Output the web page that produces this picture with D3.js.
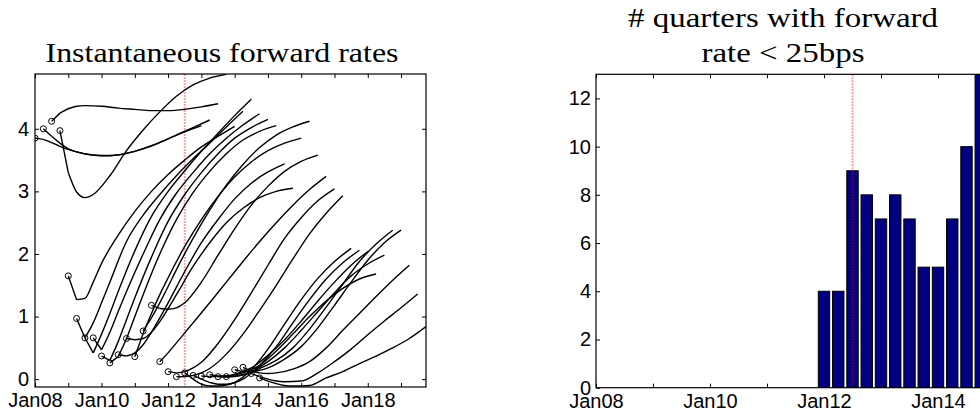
<!DOCTYPE html>
<html><head><meta charset="utf-8">
<script src="https://cdn.jsdelivr.net/npm/d3@7"></script>
<style>body{margin:0;background:#fff}svg{display:block}</style>
</head><body>
<svg id="c" width="980" height="415"></svg>
<script>
// ---------- data ----------
const horizons = [0, 0.25, 0.5, 0.75, 1, 1.5, 2, 2.5, 3, 3.5, 4, 4.5, 5];
const curveStarts = [2008.0, 2008.25, 2008.5, 2008.75, 2009.0, 2009.25, 2009.5, 2009.75,
  2010.0, 2010.25, 2010.5, 2010.75, 2011.0, 2011.25, 2011.5, 2011.75,
  2012.0, 2012.25, 2012.5, 2012.75, 2013.0, 2013.25, 2013.5, 2013.75,
  2014.0, 2014.25, 2014.5, 2014.75];
const fwd2008Q1 = [3.85, 3.83, 3.78, 3.72, 3.67, 3.60, 3.57, 3.58, 3.64, 3.73, 3.84, 3.95, 4.05];
const fwd2008Q2 = [4.00, 3.88, 3.77, 3.68, 3.63, 3.58, 3.57, 3.61, 3.68, 3.78, 3.90, 4.02, 4.14];
const fwd2008Q3 = [4.12, 4.25, 4.32, 4.36, 4.37, 4.36, 4.33, 4.31, 4.29, 4.29, 4.31, 4.35, 4.40];
const fwd2008Q4 = [3.97, 3.30, 2.99, 2.90, 2.95, 3.25, 3.65, 3.98, 4.27, 4.52, 4.70, 4.81, 4.87];
const fwd2009Q1 = [1.65, 1.27, 1.29, 1.55, 1.85, 2.30, 2.68, 3.00, 3.27, 3.50, 3.71, 3.88, 4.04];
const fwd2009Q2 = [0.97, 0.66, 0.90, 1.22, 1.55, 2.20, 2.62, 2.95, 3.25, 3.52, 3.77, 4.03, 4.28];
const fwd2009Q3 = [0.66, 0.42, 0.72, 1.05, 1.40, 2.05, 2.60, 3.00, 3.33, 3.64, 3.93, 4.21, 4.47];
const fwd2009Q4 = [0.66, 0.47, 0.75, 1.08, 1.40, 2.00, 2.55, 2.97, 3.30, 3.60, 3.85, 4.06, 4.24];
const fwd2010Q1 = [0.37, 0.30, 0.60, 0.95, 1.30, 1.95, 2.52, 2.95, 3.30, 3.60, 3.85, 4.02, 4.15];
const fwd2010Q2 = [0.26, 0.36, 0.65, 1.00, 1.35, 2.00, 2.55, 2.98, 3.32, 3.60, 3.82, 3.96, 4.05];
const fwd2010Q3 = [0.39, 0.37, 0.42, 0.55, 0.75, 1.22, 1.72, 2.18, 2.55, 2.88, 3.13, 3.31, 3.44];
const fwd2010Q4 = [0.65, 0.63, 0.65, 0.75, 0.92, 1.35, 1.80, 2.18, 2.50, 2.73, 2.90, 3.00, 3.05];
const fwd2011Q1 = [0.36, 0.73, 1.05, 1.35, 1.62, 2.12, 2.55, 2.92, 3.23, 3.47, 3.65, 3.77, 3.85];
const fwd2011Q2 = [0.77, 0.98, 1.22, 1.48, 1.75, 2.25, 2.70, 3.10, 3.43, 3.70, 3.90, 4.03, 4.12];
const fwd2011Q3 = [1.18, 1.13, 1.12, 1.14, 1.22, 1.55, 1.98, 2.40, 2.78, 3.08, 3.32, 3.48, 3.58];
const fwd2011Q4 = [0.28, 0.42, 0.58, 0.74, 0.90, 1.22, 1.55, 1.88, 2.20, 2.50, 2.78, 3.03, 3.24];
const fwd2012Q1 = [0.12, 0.10, 0.12, 0.18, 0.27, 0.57, 0.95, 1.38, 1.82, 2.25, 2.58, 2.85, 3.04];
const fwd2012Q2 = [0.04, 0.04, 0.06, 0.10, 0.17, 0.40, 0.72, 1.10, 1.50, 1.92, 2.32, 2.65, 2.93];
const fwd2012Q3 = [0.10, 0.00, -0.08, -0.11, -0.11, -0.05, 0.15, 0.48, 0.88, 1.27, 1.61, 1.88, 2.09];
const fwd2012Q4 = [0.06, 0.00, -0.05, -0.08, -0.08, 0.00, 0.22, 0.52, 0.90, 1.27, 1.60, 1.86, 2.06];
const fwd2013Q1 = [0.05, 0.04, 0.04, 0.05, 0.08, 0.18, 0.38, 0.63, 0.93, 1.25, 1.55, 1.82, 2.04];
const fwd2013Q2 = [0.07, 0.05, 0.05, 0.07, 0.10, 0.22, 0.45, 0.72, 1.00, 1.25, 1.45, 1.60, 1.68];
const fwd2013Q3 = [0.04, 0.03, 0.04, 0.07, 0.12, 0.28, 0.50, 0.78, 1.08, 1.38, 1.65, 1.84, 1.98];
const fwd2013Q4 = [0.04, 0.05, 0.07, 0.11, 0.17, 0.30, 0.50, 0.80, 1.15, 1.52, 1.88, 2.16, 2.38];
const fwd2014Q1 = [0.15, 0.12, 0.12, 0.14, 0.18, 0.32, 0.52, 0.82, 1.18, 1.55, 1.90, 2.18, 2.38];
const fwd2014Q2 = [0.19, 0.13, 0.10, 0.09, 0.10, 0.16, 0.28, 0.50, 0.78, 1.05, 1.32, 1.58, 1.82];
const fwd2014Q3 = [0.09, 0.04, 0.00, -0.03, -0.04, -0.03, 0.10, 0.28, 0.48, 0.71, 0.93, 1.14, 1.36];
const fwd2014Q4 = [0.02, -0.03, -0.07, -0.10, -0.11, -0.10, 0.02, 0.12, 0.25, 0.37, 0.50, 0.65, 0.84];
const curves = [fwd2008Q1, fwd2008Q2, fwd2008Q3, fwd2008Q4, fwd2009Q1, fwd2009Q2, fwd2009Q3, fwd2009Q4,
  fwd2010Q1, fwd2010Q2, fwd2010Q3, fwd2010Q4, fwd2011Q1, fwd2011Q2, fwd2011Q3, fwd2011Q4,
  fwd2012Q1, fwd2012Q2, fwd2012Q3, fwd2012Q4, fwd2013Q1, fwd2013Q2, fwd2013Q3, fwd2013Q4,
  fwd2014Q1, fwd2014Q2, fwd2014Q3, fwd2014Q4];

const barQuarters = [2008.0, 2008.25, 2008.5, 2008.75, 2009.0, 2009.25, 2009.5, 2009.75,
  2010.0, 2010.25, 2010.5, 2010.75, 2011.0, 2011.25, 2011.5, 2011.75,
  2012.0, 2012.25, 2012.5, 2012.75, 2013.0, 2013.25, 2013.5, 2013.75,
  2014.0, 2014.25, 2014.5, 2014.75];
const barCounts = [0, 0, 0, 0, 0, 0, 0, 0, 0, 0, 0, 0, 0, 0, 0, 0,
  4, 4, 9, 8, 7, 8, 7, 5, 5, 7, 10, 13];

const leftYTicks = [0, 1, 2, 3, 4];
const rightYTicks = [0, 2, 4, 6, 8, 10, 12];
const leftYears = [2008, 2009, 2010, 2011, 2012, 2013, 2014, 2015, 2016, 2017, 2018, 2019];
const rightYears = [2008, 2009, 2010, 2011, 2012, 2013, 2014, 2015];
const policyDate = 2012.5;
const leftTitle = "Instantaneous forward rates";
const rightTitle = ["# quarters with forward", "rate < 25bps"];

// ---------- drawing ----------
const svg = d3.select("#c");
const SANS = "'Liberation Sans', Arial, Helvetica, sans-serif";
const SERIF = "'Liberation Serif', 'Times New Roman', serif";
const fmtYear = d => (d % 2 === 0) ? "Jan" + String(d % 100).padStart(2, "0") : "";

function styleAxis(g) {
  g.select(".domain").remove();
  g.selectAll(".tick line").attr("stroke", "#000").attr("stroke-width", 1);
  g.selectAll(".tick text").attr("fill", "#000").style("font-family", SANS).style("font-size", "20px");
}

// Left panel
const L = {x0: 35, x1: 426, y0: 74, y1: 387};
const xL = d3.scaleLinear().domain([2008, 2019.75]).range([L.x0, L.x1]);
const yL = d3.scaleLinear().domain([-0.125, 4.875]).range([L.y1, L.y0]);

const defs = svg.append("defs");
defs.append("clipPath").attr("id", "clipL")
  .append("rect").attr("x", L.x0).attr("y", L.y0).attr("width", L.x1 - L.x0).attr("height", L.y1 - L.y0);

const gL = svg.append("g");
gL.append("g").attr("transform", `translate(0,${L.y1})`)
  .call(d3.axisBottom(xL).tickValues(leftYears).tickFormat(fmtYear).tickSizeInner(-4).tickSizeOuter(0).tickPadding(6))
  .call(styleAxis);
gL.append("g").attr("transform", `translate(0,${L.y0})`)
  .call(d3.axisTop(xL).tickValues(leftYears).tickFormat("").tickSizeInner(-4).tickSizeOuter(0))
  .call(styleAxis);
gL.append("g").attr("transform", `translate(${L.x0},0)`)
  .call(d3.axisLeft(yL).tickValues(leftYTicks).tickFormat(d3.format("d")).tickSizeInner(-4).tickSizeOuter(0).tickPadding(6))
  .call(styleAxis);
gL.append("g").attr("transform", `translate(${L.x1},0)`)
  .call(d3.axisRight(yL).tickValues(leftYTicks).tickFormat("").tickSizeInner(-4).tickSizeOuter(0))
  .call(styleAxis);

const plotL = gL.append("g").attr("clip-path", "url(#clipL)");
plotL.append("line")
  .attr("x1", xL(policyDate)).attr("x2", xL(policyDate)).attr("y1", L.y0).attr("y2", L.y1)
  .attr("stroke", "rgba(255,0,0,0.38)").attr("stroke-width", 2).attr("stroke-dasharray", "2,1");

const straight = d3.line().x(d => xL(d[0])).y(d => yL(d[1]));
const smooth = d3.line().x(d => xL(d[0])).y(d => yL(d[1])).curve(d3.curveMonotoneX);
curves.forEach((vals, i) => {
  const pts = horizons.map((h, k) => [curveStarts[i] + h, vals[k]]);
  plotL.append("path").attr("d", straight(pts.slice(0, 2)))
    .attr("fill", "none").attr("stroke", "#000").attr("stroke-width", 1.4);
  plotL.append("path").attr("d", smooth(pts.slice(1)))
    .attr("fill", "none").attr("stroke", "#000").attr("stroke-width", 1.4);
});
plotL.selectAll("circle.start").data(curves).join("circle")
  .attr("class", "start")
  .attr("cx", (d, i) => xL(curveStarts[i])).attr("cy", d => yL(d[0])).attr("r", 3)
  .attr("fill", "none").attr("stroke", "#000").attr("stroke-width", 1);

gL.append("rect").attr("x", L.x0).attr("y", L.y0).attr("width", L.x1 - L.x0).attr("height", L.y1 - L.y0)
  .attr("fill", "none").attr("stroke", "#000").attr("stroke-width", 1.2);

// Right panel
const R = {x0: 596, y0: 74.3, y1: 387.7};
const xR = d3.scaleLinear().domain([2008, 2016]).range([R.x0, R.x0 + 8 * 57]);
const yR = d3.scaleLinear().domain([0, 13]).range([R.y1, R.y0]);
const R_x1 = xR(2016);

defs.append("clipPath").attr("id", "clipR")
  .append("rect").attr("x", R.x0).attr("y", R.y0).attr("width", R_x1 - R.x0).attr("height", R.y1 - R.y0);

const gR = svg.append("g");
gR.append("g").attr("transform", `translate(0,${R.y1})`)
  .call(d3.axisBottom(xR).tickValues(rightYears).tickFormat(fmtYear).tickSizeInner(-4).tickSizeOuter(0).tickPadding(6))
  .call(styleAxis);
gR.append("g").attr("transform", `translate(0,${R.y0})`)
  .call(d3.axisTop(xR).tickValues(rightYears).tickFormat("").tickSizeInner(-4).tickSizeOuter(0))
  .call(styleAxis);
gR.append("g").attr("transform", `translate(${R.x0},0)`)
  .call(d3.axisLeft(yR).tickValues(rightYTicks).tickFormat(d3.format("d")).tickSizeInner(-4).tickSizeOuter(0).tickPadding(5))
  .call(styleAxis);

const plotR = gR.append("g").attr("clip-path", "url(#clipR)");
const qw = (xR(2008.25) - xR(2008)) * 0.8;
plotR.selectAll("rect.bar").data(barQuarters.map((q, i) => ({q, v: barCounts[i]})).filter(d => d.v > 0))
  .join("rect").attr("class", "bar")
  .attr("x", d => xR(d.q) - qw / 2).attr("width", qw)
  .attr("y", d => yR(d.v)).attr("height", d => yR(0) - yR(d.v))
  .attr("fill", "#000080").attr("stroke", "#000").attr("stroke-width", 1);
plotR.append("line")
  .attr("x1", xR(policyDate)).attr("x2", xR(policyDate)).attr("y1", R.y0).attr("y2", R.y1)
  .attr("stroke", "rgba(255,0,0,0.38)").attr("stroke-width", 2).attr("stroke-dasharray", "2,1");

gR.append("rect").attr("x", R.x0).attr("y", R.y0).attr("width", R_x1 - R.x0).attr("height", R.y1 - R.y0)
  .attr("fill", "none").attr("stroke", "#000").attr("stroke-width", 1.2);

// Titles (serif, widened to the reference widths)
function title(txt, x, y, w) {
  svg.append("text").attr("x", x).attr("y", y).attr("text-anchor", "middle")
    .attr("textLength", w).attr("lengthAdjust", "spacingAndGlyphs")
    .style("font-family", SERIF).style("font-size", "28px").attr("fill", "#000").text(txt);
}
title(leftTitle, 222, 62, 353);
title(rightTitle[0], 783, 27, 310);
title(rightTitle[1], 783, 62, 163);
</script>
</body></html>
